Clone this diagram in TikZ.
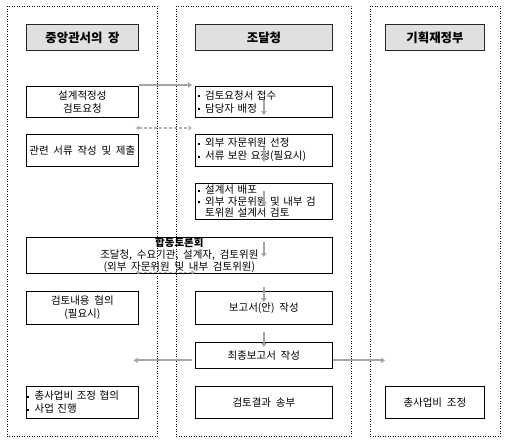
\documentclass[tikz,border=0pt]{standalone}
\usepackage{fontspec}
\setmainfont{Noto Sans CJK KR}
\usetikzlibrary{arrows.meta}
\definecolor{hdrgray}{HTML}{E0E0E0}
\definecolor{arrgray}{HTML}{A6A6A6}
\newcommand{\bul}{\rule[0.35ex]{1.8pt}{1.8pt}\hspace{5.5pt}}
\newcommand{\bulskip}{\hspace*{7.3pt}}
\newcommand{\boxfont}[2]{\fontsize{#1}{#2}\selectfont\spaceskip=0.45em\relax}

\begin{document}
\begin{tikzpicture}[x=1pt,y=-1pt,
	lane/.style={draw,dotted,line width=0.5pt},
	head/.style={draw=black!85,line width=1pt,fill=hdrgray,anchor=north west,minimum height=26pt,inner sep=0pt,font=\boxfont{12.4}{14}\bfseries},
	box/.style={draw,line width=0.7pt,anchor=north west,inner sep=0pt,align=center,font=\boxfont{10.5}{13}},
	list/.style={box,align=left,inner xsep=2.5pt},
	harrow/.style={draw=arrgray,line width=1.8pt,-{Triangle[length=4pt,width=5.5pt]}},
	darrow/.style={draw=arrgray!85,line width=1.4pt,dash pattern=on 3pt off 2pt,{Triangle[length=3.5pt,width=4.5pt]}-{Triangle[length=3.5pt,width=4.5pt]}}]
		\useasboundingbox (0,0) rectangle (509,445);
		\draw[lane] (7,6) rectangle (157,436);
		\draw[lane] (176,6) rectangle (351,436);
		\draw[lane] (370,6) rectangle (500,436);
		\node[head,minimum width=112pt] (h1) at (26,24) {중앙관서의 장};
		\node[head,minimum width=137pt] (h2) at (195,24) {조달청};
		\node[head,minimum width=99pt] (h3) at (385,24) {기획재정부};
		\node[box,minimum width=112pt,minimum height=30.5pt] (l1) at (26,86) {설계적정성\\검토요청};
		\node[list,text width=132pt,minimum height=30.5pt] (m1) at (195,86) {\bul 검토요청서 접수\\\bul 담당자 배정};
		\node[box,minimum width=112pt,minimum height=31.5pt] (l2) at (26,134) {관련 서류 작성 및 제출};
		\node[list,text width=132pt,minimum height=31.5pt] (m2) at (195,134) {\bul 외부 자문위원 선정\\\bul 서류 보완 요청(필요시)};
		\node[list,text width=132pt,minimum height=36pt,font=\boxfont{10.5}{11.5}] (m3) at (195,183) {\bul 설계서 배포\\\bul 외부 자문위원 및 내부 검\\\bulskip 토위원 설계서 검토};
		\node[box,minimum width=306pt,minimum height=36pt,font=\boxfont{10.5}{12}] (j) at (26,237) {{\bfseries 합동토론회}\\조달청, 수요기관, 설계자, 검토위원\\(외부 자문위원 및 내부 검토위원)};
		\node[box,minimum width=112pt,minimum height=33pt] (l3) at (26,291) {검토내용 협의\\(필요시)};
		\node[box,minimum width=137pt,minimum height=33pt] (m4) at (195,291) {보고서(안) 작성};
		\node[box,minimum width=137pt,minimum height=26pt] (m5) at (195,342) {최종보고서 작성};
		\node[list,inner xsep=1pt,text width=110pt,minimum height=31.5pt] (l4) at (26,386) {\bul 총사업비 조정 협의\\\bul 사업 진행};
		\node[box,minimum width=137pt,minimum height=31.5pt] (m6) at (195,386) {검토결과 송부};
		\node[box,minimum width=99pt,minimum height=31.5pt] (r1) at (385,386) {총사업비 조정};
		% arrows between the lanes
		\draw[harrow,shorten >=3pt] ([yshift=1pt]l1.north east) -- ([yshift=1pt]l1.north east -| m1.west);
		\draw[darrow,shorten <=-3pt,shorten >=3pt] ([yshift=6pt]l2.north east) -- ([yshift=6pt]l2.north east -| m2.west);
		\draw[darrow,shorten <=-3pt] ([yshift=1.5pt]j.south -| l3.east) -- ([yshift=1.5pt]j.south -| m4.west);
		\draw[harrow,shorten <=3pt,shorten >=-5pt] ([yshift=-5pt]m5.west) -- ([yshift=-5pt]m5.west -| l3.east);
		\draw[harrow] ([yshift=-5pt]m5.east) -- ([yshift=-5pt]m5.east -| r1.west);
		% arrows down the middle lane
		\foreach \n/\d in {m1/14,m2/13,m3/8,m4/-4,m5/-10}
			\draw[harrow] (\n.north) ++(0,\d) -- ++(0,15);
		\draw[harrow] (j.north -| m1.north) ++(0,5) -- ++(0,15);
\end{tikzpicture}
\end{document}
